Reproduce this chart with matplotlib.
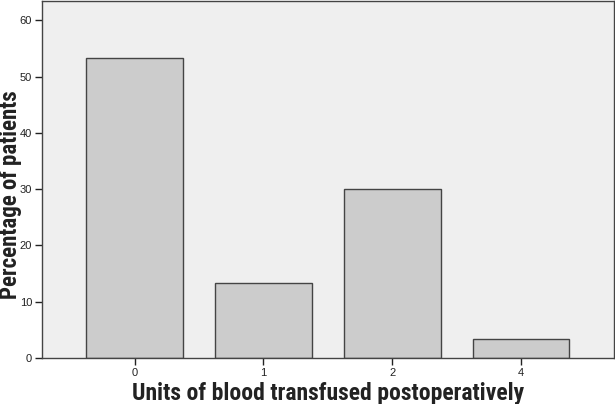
import numpy as np
import matplotlib.pyplot as plt

# data
categories = ['0', '1', '2', '4']
percent = [53.33, 13.33, 30.0, 3.33]

plt.rcParams['font.family'] = ['Liberation Sans', 'DejaVu Sans']

fig = plt.figure(figsize=(6.15, 4.04), dpi=100)
ax = fig.add_axes([0.068, 0.114, 0.93, 0.884])

x = np.arange(len(categories))
ax.bar(x, percent, width=0.75, color='#cccccc', edgecolor='#444444', linewidth=1.0)

ax.set_facecolor('#efefef')
ax.set_xlim(-0.72, len(categories) - 1 + 0.72)
ax.set_ylim(0, 63.5)
ax.set_xticks(x)
ax.set_xticklabels(categories)
ax.set_yticks([0, 10, 20, 30, 40, 50, 60])
ax.tick_params(direction='out', length=5, width=1, labelsize=8,
               color='#222222', labelcolor='#222222', pad=2)

for s in ax.spines.values():
    s.set_color('#444444')
    s.set_linewidth(1.0)

lab_font = ['Roboto Condensed', 'DejaVu Sans']
ax.set_xlabel('Units of blood transfused postoperatively', fontsize=17,
              fontweight='bold', family=lab_font, color='#222222')
ax.xaxis.set_label_coords(0.501, -0.067)
ax.set_ylabel('Percentage of patients', fontsize=16.5, fontweight='bold',
              family=lab_font, color='#222222')
ax.yaxis.set_label_coords(-0.035, 0.457)

fig.savefig('out.png', dpi=100)
